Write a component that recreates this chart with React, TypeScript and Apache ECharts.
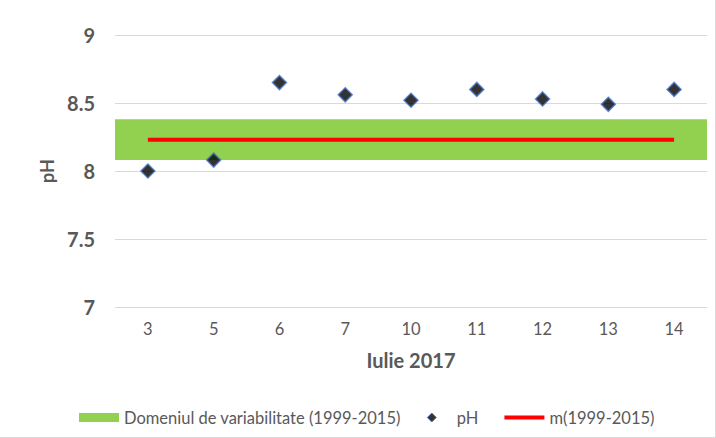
import React, { useEffect, useRef } from "react";
import * as echarts from "echarts";

const categories = ["3", "5", "6", "7", "10", "11", "12", "13", "14"];
const phValues = [8.0, 8.08, 8.65, 8.56, 8.52, 8.6, 8.53, 8.49, 8.6];
const meanValue = 8.23;
const meanValues = categories.map(() => meanValue);
const bandLow = 8.08;
const bandHigh = 8.38;
const yTicks = { min: 7, max: 9, interval: 0.5 };

const FONT = "Lato, 'Open Sans', sans-serif";
const GRAY = "#595959";

export default function App() {
  const ref = useRef<HTMLDivElement>(null);
  useEffect(() => {
    if (!ref.current) return;
    const chart = echarts.init(ref.current, undefined, { renderer: "svg" });
    chart.setOption({
      animation: false,
      textStyle: { fontFamily: FONT },
      grid: { left: 115, right: 9, top: 35, bottom: 131 },
      xAxis: {
        type: "category",
        data: categories,
        axisLine: { show: false },
        axisTick: { show: false },
        axisLabel: { color: GRAY, fontSize: 16.5, margin: 13, fontFamily: FONT },
        name: "Iulie 2017",
        nameLocation: "middle",
        nameGap: 43,
        nameTextStyle: { color: GRAY, fontSize: 20, fontWeight: "bold", fontFamily: FONT },
      },
      yAxis: {
        type: "value",
        min: yTicks.min,
        max: yTicks.max,
        interval: yTicks.interval,
        axisLine: { show: false },
        axisTick: { show: false },
        axisLabel: { color: GRAY, fontSize: 20, fontWeight: "bold", margin: 20, fontFamily: FONT },
        splitLine: { lineStyle: { color: "#d9d9d9", width: 1 } },
        name: "pH",
        nameLocation: "middle",
        nameGap: 56,
        nameTextStyle: { color: GRAY, fontSize: 18, fontWeight: "bold", fontFamily: FONT },
      },
      legend: {
        top: 404,
        left: 74,
        itemGap: 26,
        itemWidth: 40,
        itemHeight: 9,
        symbolKeepAspect: true,
        textStyle: { color: GRAY, fontSize: 16.5, fontFamily: FONT },
        data: [
          { name: "Domeniul de variabilitate (1999-2015)", icon: "rect" },
          {
            name: "pH",
            icon: "path://M5,0 L10,5 L5,10 L0,5 Z",
            itemStyle: { color: "#000000", borderColor: "#4472c4", borderWidth: 1 },
          },
          { name: "m(1999-2015)", icon: "path://M0,0 H40 V4 H0 Z" },
        ],
      },
      series: [
        {
          name: "Domeniul de variabilitate (1999-2015)",
          type: "line",
          data: [],
          itemStyle: { color: "#92d050" },
          lineStyle: { color: "#92d050" },
          markArea: {
            silent: true,
            itemStyle: { color: "#92d050", opacity: 1 },
            data: [[{ yAxis: bandLow }, { yAxis: bandHigh }]],
          },
          z: 1,
        },
        {
          name: "m(1999-2015)",
          type: "line",
          data: meanValues,
          symbol: "none",
          lineStyle: { color: "#ff0000", width: 4 },
          itemStyle: { color: "#ff0000" },
          z: 3,
        },
        {
          name: "pH",
          type: "scatter",
          data: phValues,
          symbol: "diamond",
          symbolSize: 14,
          itemStyle: { color: "#000000", borderColor: "#4472c4", borderWidth: 1.5 },
          z: 4,
        },
      ],
    });
    return () => chart.dispose();
  }, []);
  return (
    <div
      style={{
        position: "fixed",
        left: 0,
        top: 0,
        width: 716,
        height: 438,
        background: "#fff",
        boxSizing: "border-box",
        borderRight: "1px solid #d9d9d9",
        borderBottom: "1px solid #d9d9d9",
      }}
    >
      <div ref={ref} style={{ width: 716, height: 438 }} />
    </div>
  );
}
